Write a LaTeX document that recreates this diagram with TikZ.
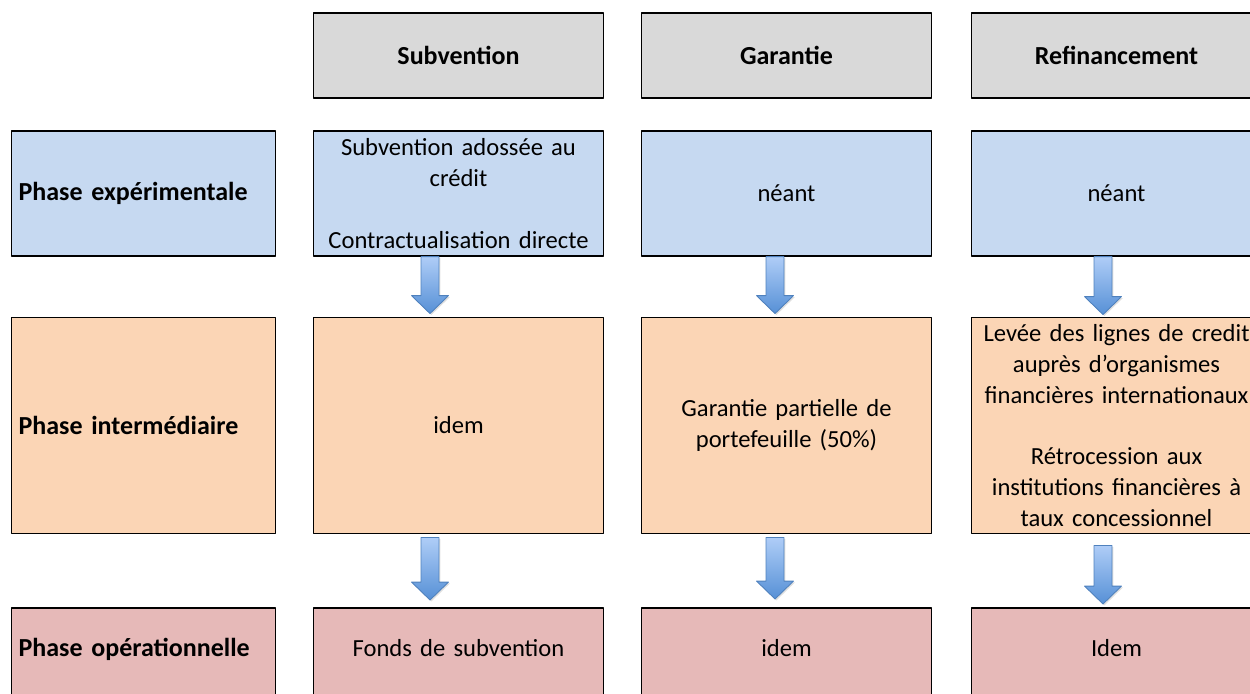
\documentclass[tikz,border=0pt]{standalone}
\usepackage{fontspec}
\setmainfont{Carlito}
\usetikzlibrary{calc,shadows}
\definecolor{headgray}{HTML}{D9D9D9}
\definecolor{phaseblue}{HTML}{C6D9F1}
\definecolor{phaseorange}{HTML}{FBD5B5}
\definecolor{phasepink}{HTML}{E6B9B8}
\definecolor{arrowtop}{HTML}{AFCDF7}
\definecolor{arrowbot}{HTML}{5690D6}
\definecolor{arrowline}{HTML}{4F81BD}
\newcommand\boxfont{\fontsize{14}{17.6}\selectfont}
\newcommand\labfont{\fontsize{14.8}{17.6}\selectfont\bfseries}
% block arrow from #1 (shaft top) down to #2 (tip)
\newcommand\fatarrow[2]{%
  \path[fatarrow] let \p1=(#1), \p2=(#2) in
    (\x1-5.1pt,\y1) -- (\x1-5.1pt,\y2+10.2pt) -- (\x1-10.5pt,\y2+10.2pt) -- (\x1,\y2)
    -- (\x1+10.5pt,\y2+10.2pt) -- (\x1+5.1pt,\y2+10.2pt) -- (\x1+5.1pt,\y1) -- cycle;}
\begin{document}
\begin{tikzpicture}[x=0.02cm,y=-0.02cm,line join=round,
  box/.style={draw=black,line width=1pt,inner xsep=4pt,inner ysep=0pt,align=center,
    text width=157pt,font=\boxfont},
  lab/.style={box,align=left,text width=142.2pt,font=\labfont},
  head/.style={fill=headgray,minimum height=48.2pt,font=\labfont},
  rowa/.style={fill=phaseblue,minimum height=70.9pt},
  rowb/.style={fill=phaseorange,minimum height=123pt},
  rowc/.style={fill=phasepink,anchor=north,text height=27.5pt,text depth=30pt},
  fatarrow/.style={draw=arrowline,line width=0.5pt,top color=arrowtop,bottom color=arrowbot,
    drop shadow={opacity=0.25,shadow xshift=0.8pt,shadow yshift=-0.8pt}}]
\useasboundingbox (0,0) rectangle (1250,693);

% column heads
\foreach \n/\t/\x in {s/Subvention/458.5,g/Garantie/786.5,r/Refinancement/1116.5}
  \node[box,head] (\n0) at (\x,55.5) {\t};

% phase expérimentale
\node[lab,rowa] (l1) at (143.5,193.5) {Phase expérimentale};
\node[box,rowa] (s1) at (458.5,193.5) {Subvention adossée au\\crédit\\[17.6pt]Contractualisation directe};
\node[box,rowa] (g1) at (786.5,193.5) {néant};
\node[box,rowa] (r1) at (1116.5,193.5) {néant};

% phase intermédiaire
\node[lab,rowb] (l2) at (143.5,425.5) {Phase intermédiaire};
\node[box,rowb] (s2) at (458.5,425.5) {idem};
\node[box,rowb] (g2) at (786.5,425.5) {Garantie partielle de\\portefeuille (50\%)};
\node[box,rowb] (r2) at (1116.5,425.5) {Levée des lignes de credit\\auprès d’organismes\\financières internationaux\\[17.6pt]Rétrocession aux\\institutions financières à\\taux concessionnel};

% phase opérationnelle
\node[lab,rowc] (l3) at (143.5,607) {Phase opérationnelle};
\node[box,rowc] (s3) at (458.5,607) {Fonds de subvention};
\node[box,rowc] (g3) at (786.5,607) {idem};
\node[box,rowc] (r3) at (1116.5,607) {Idem};

% arrows
\fatarrow{$(s1.south)+(-28.5,0)$}{$(s2.north)+(-28.5,-3)$}
\fatarrow{$(g1.south)+(-11.5,0)$}{$(g2.north)+(-11.5,-3)$}
\fatarrow{$(r1.south)+(-13.5,0)$}{$(r2.north)+(-13.5,-2)$}
\fatarrow{$(s2.south)+(-28.5,3)$}{$(s3.north)+(-28.5,-7)$}
\fatarrow{$(g2.south)+(-11.5,3)$}{$(g3.north)+(-11.5,-8)$}
\fatarrow{$(r2.south)+(-13.5,11)$}{$(r3.north)+(-13.5,-3)$}
\end{tikzpicture}
\end{document}
